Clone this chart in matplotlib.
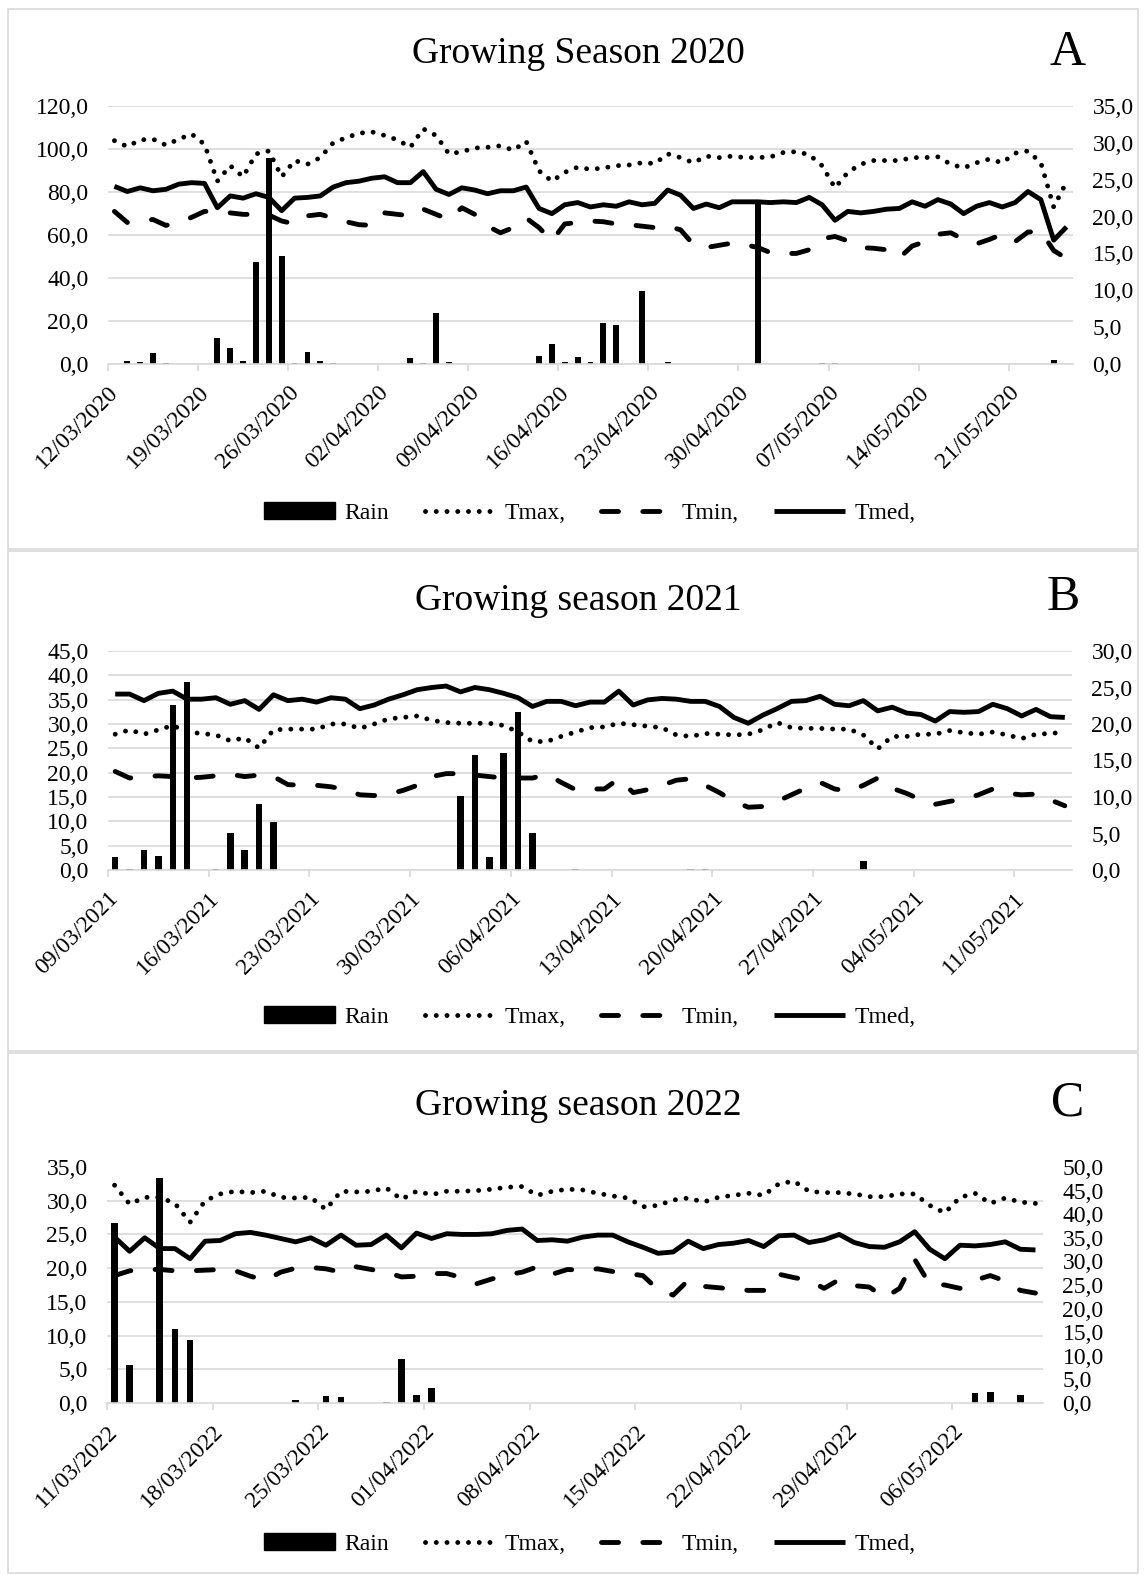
import numpy as np
import matplotlib
matplotlib.use("Agg")
import matplotlib.pyplot as plt
from matplotlib.patches import Patch, Rectangle
from matplotlib.lines import Line2D
from matplotlib.ticker import MultipleLocator, FuncFormatter

plt.rcParams["font.family"] = "Liberation Serif"

# ---- 2020 (12/03 - 25/05) ----
dates_2020 = ["12/03/2020", "19/03/2020", "26/03/2020", "02/04/2020", "09/04/2020",
              "16/04/2020", "23/04/2020", "30/04/2020", "07/05/2020", "14/05/2020",
              "21/05/2020"]
rain_2020 = [0, 1.6, 0.8, 5.0, 0.3, 0, 0, 0, 12.3, 7.6,
             1.5, 47.3, 96.0, 50.1, 0.3, 5.4, 1.4, 0.6, 0, 0,
             0, 0, 0, 2.7, 0.3, 23.7, 0.7, 0, 0, 0,
             0, 0, 0, 3.9, 9.5, 0.9, 3.1, 1.0, 19.0, 18.2,
             0.2, 33.8, 0, 1.1, 0, 0, 0, 0, 0, 0,
             75.8, 0, 0, 0, 0, 0.5, 0.5, 0, 0, 0,
             0, 0, 0, 0, 0, 0, 0, 0.2, 0, 0,
             0, 0, 0, 1.9, 0]
tmax_2020 = [30.3, 29.5, 30.4, 30.5, 29.7, 30.5, 31.2, 29.8, 24.8, 26.9,
             25.4, 28.5, 28.9, 25.4, 27.6, 27.1, 28.0, 30.0, 30.7, 31.3,
             31.5, 31.0, 30.4, 29.4, 31.9, 31.0, 28.5, 28.8, 29.3, 29.4,
             29.6, 29.0, 30.2, 26.2, 24.8, 26.0, 26.7, 26.4, 26.6, 26.9,
             27.0, 27.3, 27.2, 28.5, 28.0, 27.3, 28.2, 28.0, 28.2, 28.0,
             28.0, 28.1, 28.7, 28.8, 28.4, 26.9, 23.9, 26.0, 27.1, 27.6,
             27.6, 27.6, 28.0, 28.0, 28.1, 27.1, 26.6, 27.3, 27.8, 27.3,
             28.6, 28.9, 27.3, 21.3, 24.7]
tmin_2020 = [20.7, 19.2, 19.4, 19.6, 18.8, 19.2, 19.9, 20.7, 20.7, 20.5,
             20.3, 20.3, 20.2, 19.4, 19.0, 20.1, 20.3, 19.8, 19.3, 18.9,
             18.8, 20.5, 20.3, 20.1, 21.0, 20.3, 19.6, 21.2, 20.3, 18.7,
             17.8, 18.5, 19.8, 18.5, 16.7, 19.0, 19.2, 19.4, 19.3, 19.0,
             18.9, 18.7, 18.5, 18.7, 18.2, 16.2, 15.8, 16.1, 16.4, 16.2,
             15.8, 15.1, 15.0, 15.0, 15.5, 17.0, 17.3, 16.7, 15.8, 15.7,
             15.5, 14.4, 16.0, 16.6, 17.6, 17.8, 16.9, 16.3, 16.9, 17.6,
             16.6, 17.9, 18.0, 15.4, 14.3]
tmed_2020 = [24.1, 23.4, 23.9, 23.5, 23.7, 24.4, 24.6, 24.5, 21.2, 22.8,
             22.5, 23.1, 22.6, 20.8, 22.5, 22.6, 22.8, 24.0, 24.6, 24.8,
             25.2, 25.4, 24.6, 24.6, 26.1, 23.7, 23.0, 23.9, 23.6, 23.1,
             23.5, 23.5, 24.0, 21.1, 20.4, 21.6, 21.9, 21.3, 21.6, 21.4,
             22.0, 21.6, 21.8, 23.6, 22.9, 21.1, 21.7, 21.2, 22.0, 22.0,
             22.0, 21.9, 22.0, 21.9, 22.6, 21.6, 19.5, 20.7, 20.5, 20.7,
             21.0, 21.1, 22.0, 21.4, 22.3, 21.7, 20.4, 21.4, 21.9, 21.3,
             21.9, 23.4, 22.3, 16.8, 18.6]

# ---- 2021 (09/03 - 14/05) ----
dates_2021 = ["09/03/2021", "16/03/2021", "23/03/2021", "30/03/2021", "06/04/2021",
              "13/04/2021", "20/04/2021", "27/04/2021", "04/05/2021", "11/05/2021"]
rain_2021 = [2.7, 0.2, 4.1, 2.9, 33.9, 38.7, 0, 0.2, 7.7, 4.1,
             13.6, 9.9, 0, 0, 0, 0, 0, 0, 0, 0,
             0, 0, 0, 0, 15.2, 23.6, 2.7, 24.0, 32.4, 7.7,
             0, 0, 0.2, 0, 0, 0, 0, 0, 0, 0,
             0.3, 0.3, 0, 0, 0, 0, 0, 0, 0, 0,
             0, 0, 1.8, 0, 0, 0, 0, 0, 0, 0,
             0, 0, 0, 0, 0, 0, 0]
tmax_2021 = [18.6, 19.2, 18.6, 19.2, 19.8, 18.9, 18.7, 18.5, 17.7, 18.1,
             16.7, 19.2, 19.3, 19.3, 19.3, 20.0, 20.0, 19.4, 20.0, 20.7,
             20.9, 21.1, 20.5, 20.2, 20.1, 20.1, 20.1, 19.8, 18.9, 17.6,
             17.6, 18.3, 18.9, 19.5, 19.6, 20.1, 19.9, 19.7, 19.5, 18.5,
             18.3, 18.7, 18.6, 18.5, 18.6, 19.2, 20.2, 19.5, 19.4, 19.4,
             19.3, 19.3, 18.5, 16.6, 18.3, 18.3, 18.6, 18.6, 19.1, 18.8,
             18.6, 18.9, 18.5, 18.0, 18.6, 18.7, 18.9]
tmin_2021 = [13.5, 12.6, 12.8, 12.9, 12.8, 12.6, 12.7, 12.9, 13.1, 12.8,
             13.0, 12.8, 11.7, 11.6, 11.6, 11.4, 11.0, 10.3, 10.2, 10.4,
             10.9, 11.6, 12.8, 13.2, 13.2, 13.0, 12.8, 12.6, 12.6, 12.6,
             13.1, 12.0, 11.0, 11.1, 11.1, 12.5, 10.6, 11.0, 11.6, 12.3,
             12.5, 11.6, 10.6, 9.4, 8.6, 8.7, 9.4, 10.3, 11.2, 12.0,
             11.1, 10.8, 11.6, 12.6, 11.2, 10.5, 9.6, 9.0, 9.4, 9.7,
             10.3, 11.1, 10.5, 10.3, 10.4, 9.6, 8.8]
tmed_2021 = [24.1, 24.1, 23.2, 24.2, 24.5, 23.4, 23.4, 23.6, 22.7, 23.2,
             22.0, 24.0, 23.2, 23.4, 23.0, 23.6, 23.4, 22.1, 22.6, 23.4,
             24.0, 24.7, 25.0, 25.2, 24.4, 25.0, 24.7, 24.2, 23.6, 22.4,
             23.1, 23.1, 22.5, 23.0, 23.0, 24.5, 22.6, 23.3, 23.5, 23.4,
             23.1, 23.1, 22.4, 20.9, 20.1, 21.2, 22.1, 23.1, 23.2, 23.8,
             22.7, 22.5, 23.2, 21.8, 22.3, 21.5, 21.3, 20.4, 21.7, 21.6,
             21.7, 22.7, 22.1, 21.1, 22.0, 21.0, 20.9]

# ---- 2022 (11/03 - 11/05) ----
dates_2022 = ["11/03/2022", "18/03/2022", "25/03/2022", "01/04/2022", "08/04/2022",
              "15/04/2022", "22/04/2022", "29/04/2022", "06/05/2022"]
rain_2022 = [38.1, 8.0, 0, 47.7, 15.7, 13.4, 0, 0, 0, 0,
             0, 0, 0.6, 0, 1.4, 1.3, 0, 0, 0.2, 9.4,
             1.7, 3.1, 0, 0, 0, 0, 0, 0, 0, 0,
             0, 0, 0, 0, 0, 0, 0, 0, 0, 0,
             0, 0, 0, 0, 0, 0, 0, 0, 0, 0,
             0, 0, 0, 0, 0, 0, 0, 2.1, 2.3, 0,
             1.6, 0]
tmax_2022 = [32.3, 29.5, 30.5, 30.5, 29.6, 26.8, 30.0, 31.0, 31.4, 31.2,
             31.4, 30.5, 30.4, 30.5, 28.7, 31.4, 31.3, 31.4, 31.9, 30.2,
             31.4, 30.9, 31.4, 31.4, 31.5, 31.7, 32.0, 32.1, 30.8, 31.4,
             31.7, 31.6, 31.1, 30.7, 30.4, 29.1, 29.3, 30.1, 30.4, 29.8,
             30.5, 30.8, 31.1, 30.8, 32.5, 32.9, 31.4, 31.2, 31.2, 31.0,
             30.6, 30.6, 31.0, 31.0, 29.3, 28.2, 30.5, 31.1, 29.6, 30.4,
             29.8, 29.6]
tmin_2022 = [18.9, 19.6, 19.8, 19.8, 19.6, 19.6, 19.7, 19.8, 19.6, 18.8,
             18.2, 19.4, 20.0, 20.1, 19.9, 19.4, 20.2, 19.8, 19.4, 18.7,
             18.8, 19.2, 19.2, 18.6, 17.7, 18.4, 19.0, 19.4, 20.2, 19.1,
             19.8, 19.7, 19.9, 19.5, 19.2, 18.9, 16.8, 16.0, 18.2, 17.3,
             17.1, 16.9, 16.7, 16.7, 19.1, 18.6, 18.2, 17.0, 18.3, 17.4,
             17.2, 15.6, 17.0, 21.3, 17.6, 17.5, 17.0, 18.2, 18.9, 18.1,
             16.7, 16.3]
tmed_2022 = [24.6, 22.5, 24.5, 22.9, 22.9, 21.4, 24.0, 24.1, 25.1, 25.3,
             24.9, 24.4, 23.9, 24.5, 23.4, 24.9, 23.4, 23.5, 24.9, 23.0,
             25.2, 24.4, 25.1, 25.0, 25.0, 25.1, 25.6, 25.8, 24.1, 24.2,
             24.0, 24.6, 24.9, 24.9, 23.9, 23.1, 22.2, 22.4, 24.0, 22.9,
             23.5, 23.7, 24.1, 23.2, 24.8, 24.9, 23.8, 24.2, 25.0, 23.8,
             23.2, 23.1, 23.9, 25.4, 22.8, 21.4, 23.4, 23.3, 23.5, 23.9,
             22.8, 22.7]

W, H = 1144, 1575
GRID = "#d9d9d9"
comma = FuncFormatter(lambda v, p: f"{v:.1f}".replace(".", ","))

TMAX_STYLE = dict(color="black", lw=3.5, linestyle=(0, (0.01, 2.2)), dash_capstyle="round")
TMIN_STYLE = dict(color="black", lw=3.5, linestyle=(0, (3.5, 5)), dash_capstyle="round")
TMED_STYLE = dict(color="black", lw=3.5, solid_capstyle="butt")

fig = plt.figure(figsize=(W / 100, H / 100), dpi=100)


def px_rect(x0, y0, x1, y1):
    return [x0 / W, 1 - y1 / H, (x1 - x0) / W, (y1 - y0) / H]


def draw_panel(box, plot, title, title_y, letter, letter_xy, legend_y,
               dates, rain, tmax, tmin, tmed, rain_max, rain_step, temp_max,
               rain_left=True):
    fig.add_artist(Rectangle((box[0] / W, 1 - box[3] / H), (box[2] - box[0]) / W,
                             (box[3] - box[1]) / H, transform=fig.transFigure,
                             fill=False, edgecolor=GRID, lw=1.2))

    ax = fig.add_axes(px_rect(*plot))
    ax2 = ax.twinx()
    x = np.arange(len(rain))

    ax.bar(x, rain, width=0.45, color="black", zorder=2)
    ax2.plot(x, tmax, **TMAX_STYLE)
    ax2.plot(x, tmin, **TMIN_STYLE)
    ax2.plot(x, tmed, **TMED_STYLE)

    ax.set_ylim(0, rain_max)
    ax.yaxis.set_major_locator(MultipleLocator(rain_step))
    ax2.set_ylim(0, temp_max)
    ax2.yaxis.set_major_locator(MultipleLocator(5))
    ax.yaxis.set_major_formatter(comma)
    ax2.yaxis.set_major_formatter(comma)

    ax.set_axisbelow(True)
    if rain_left:
        ax.grid(axis="y", color=GRID, lw=1.2)
    else:
        # temperature scale is on the left here, gridlines follow it
        ax.yaxis.tick_right()
        ax2.yaxis.tick_left()
        ax.yaxis.set_minor_locator(MultipleLocator(rain_max * 5 / temp_max))
        ax.grid(axis="y", which="minor", color=GRID, lw=1.2)
        ax.tick_params(axis="y", which="minor", length=0)

    for a in (ax, ax2):
        a.tick_params(axis="y", length=0, pad=14, labelsize=17)
        for s in a.spines.values():
            s.set_visible(False)
    ax.spines["bottom"].set_visible(True)
    ax.spines["bottom"].set_color(GRID)
    ax.spines["bottom"].set_linewidth(1.2)

    ax.set_xlim(-0.5, len(rain) - 0.5)
    ax.set_xticks(np.arange(len(dates)) * 7 - 0.5)
    ax.set_xticklabels(dates, rotation=45, ha="right", va="top",
                       rotation_mode="anchor", fontsize=17)
    ax.tick_params(axis="x", length=5, width=1.2, color=GRID, pad=8)

    fig.text(578 / W, 1 - title_y / H, title, ha="center", va="baseline", fontsize=27)
    fig.text(letter_xy[0] / W, 1 - letter_xy[1] / H, letter, ha="center",
             va="baseline", fontsize=36)

    handles = [Patch(facecolor="black", edgecolor="black"),
               Line2D([], [], **TMAX_STYLE),
               Line2D([], [], **TMIN_STYLE),
               Line2D([], [], **TMED_STYLE)]
    fig.legend(handles, ["Rain", "Tmax,", "Tmin,", "Tmed,"], loc="center",
               bbox_to_anchor=(590 / W, 1 - legend_y / H), ncol=4, frameon=False,
               fontsize=17, handlelength=3.0, handletextpad=0.4, columnspacing=1.5)


draw_panel((8, 9, 1138, 549), (108, 106, 1073, 364), "Growing Season 2020", 63,
           "A", (1068, 65), 513, dates_2020, rain_2020, tmax_2020, tmin_2020,
           tmed_2020, 120, 20, 35)
draw_panel((8, 551, 1138, 1051), (108, 651, 1072, 870), "Growing season 2021", 610,
           "B", (1063, 610), 1017, dates_2021, rain_2021, tmax_2021, tmin_2021,
           tmed_2021, 45, 5, 30)
draw_panel((8, 1053, 1138, 1573), (107, 1167, 1043, 1403), "Growing season 2022", 1115,
           "C", (1068, 1115), 1544, dates_2022, rain_2022, tmax_2022, tmin_2022,
           tmed_2022, 50, 5, 35, rain_left=False)

fig.savefig("out.png", dpi=100)
